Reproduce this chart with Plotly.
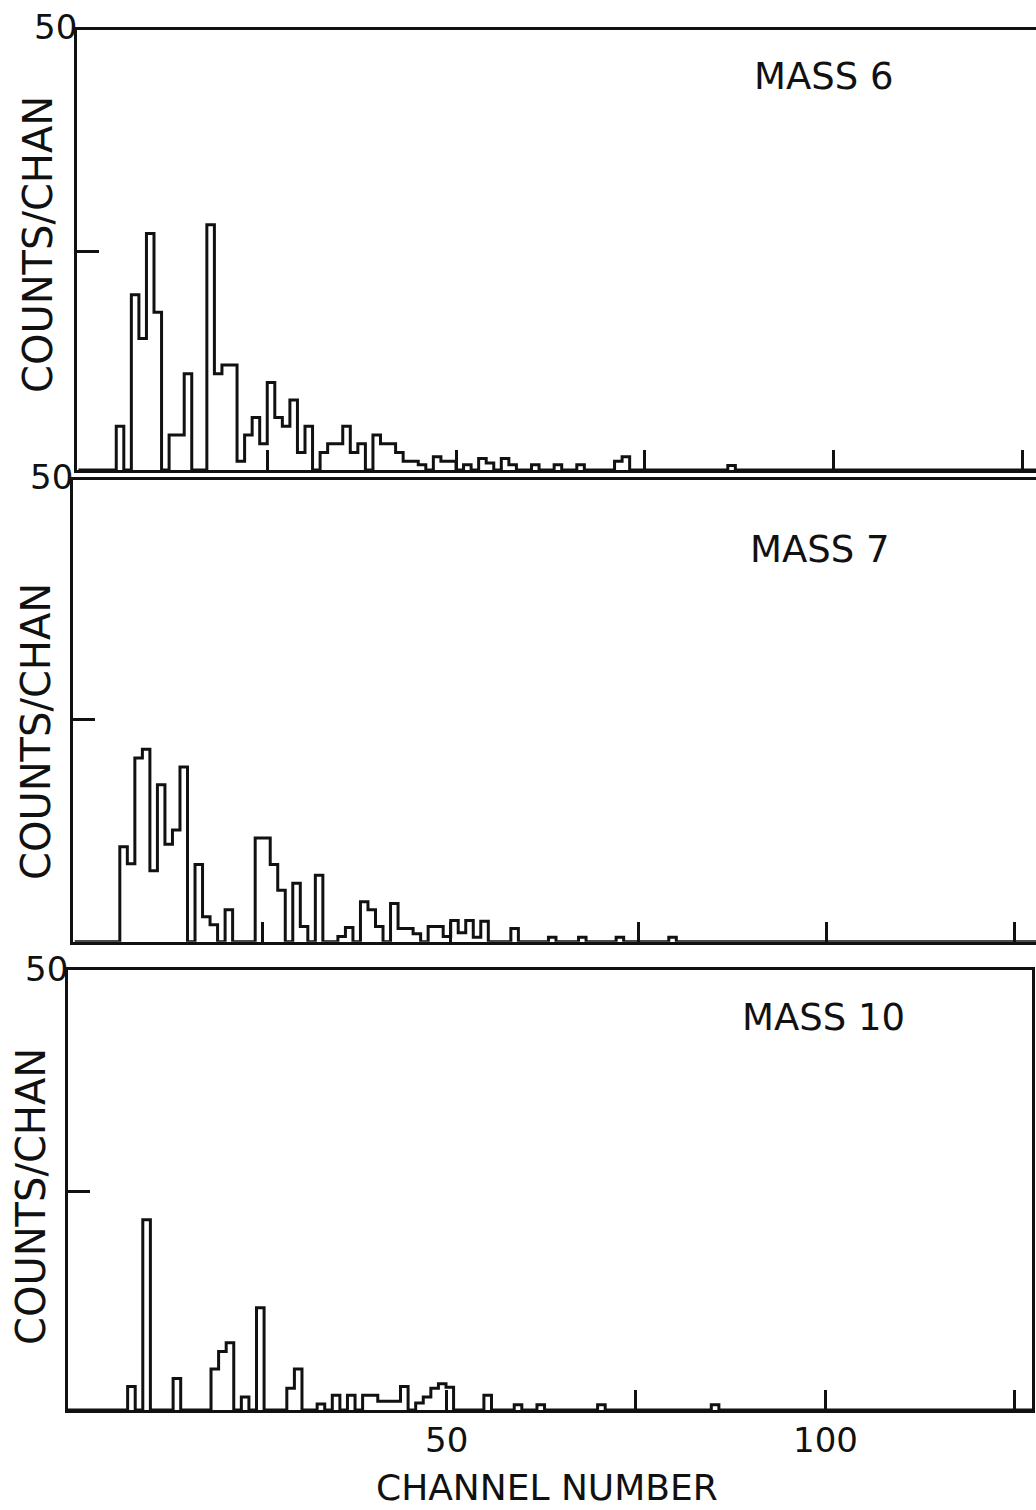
import plotly.graph_objects as go

# ---------------- data (counts per channel, channels 0..127) ----------------
channels = list(range(128))

mass6 = [0, 0, 0, 0, 0, 5, 0, 20, 15, 27,
         18, 0, 4, 4, 11, 0, 0, 28, 11, 12,
         12, 1, 4, 6, 3, 10, 6, 5, 8, 2,
         5, 0, 2, 3, 3, 5, 2, 3, 0, 4,
         3, 3, 2, 1, 1, 0.6, 0, 1.5, 1, 1,
         0, 0.6, 0, 1.3, 0.8, 0, 1.3, 0.6, 0, 0,
         0.6, 0, 0, 0.6, 0, 0, 0.6, 0, 0, 0,
         0, 1, 1.5, 0, 0, 0, 0, 0, 0, 0,
         0, 0, 0, 0, 0, 0, 0.5, 0, 0, 0,
         0, 0, 0, 0, 0, 0, 0, 0, 0, 0,
         0, 0, 0, 0, 0, 0, 0, 0, 0, 0,
         0, 0, 0, 0, 0, 0, 0, 0, 0, 0,
         0, 0, 0, 0, 0, 0, 0, 0]

mass7 = [0, 0, 0, 0, 0, 0, 10.7, 8.8, 20.7, 21.7,
         8, 17.7, 11, 12.6, 19.7, 0, 8.7, 2.8, 1.9, 0,
         3.6, 0, 0, 0, 11.7, 11.7, 8.7, 5.8, 0, 6.6,
         1.7, 0, 7.5, 0, 0, 0.6, 1.6, 0, 4.5, 3.6,
         1.7, 0, 4.3, 1.5, 1.5, 0.9, 0, 1.7, 1.7, 0.6,
         2.4, 1, 2.4, 0.5, 2.3, 0, 0, 0, 1.5, 0,
         0, 0, 0, 0.5, 0, 0, 0, 0.5, 0, 0,
         0, 0, 0.5, 0, 0, 0, 0, 0, 0, 0.5,
         0, 0, 0, 0, 0, 0, 0, 0, 0, 0,
         0, 0, 0, 0, 0, 0, 0, 0, 0, 0,
         0, 0, 0, 0, 0, 0, 0, 0, 0, 0,
         0, 0, 0, 0, 0, 0, 0, 0, 0, 0,
         0, 0, 0, 0, 0, 0, 0, 0]

mass10 = [0, 0, 0, 0, 0, 0, 0, 0, 2.7, 0,
          21.8, 0, 0, 0, 3.6, 0, 0, 0, 0, 4.7,
          6.7, 7.7, 0, 1.5, 0, 11.7, 0, 0, 0, 2.5,
          4.7, 0, 0, 0.7, 0, 1.7, 0, 1.7, 0, 1.7,
          1.7, 1, 1, 1, 2.7, 0, 0.8, 1.5, 2.5, 3.0,
          2.6, 0, 0, 0, 0, 1.7, 0, 0, 0, 0.6,
          0, 0, 0.6, 0, 0, 0, 0, 0, 0, 0,
          0.6, 0, 0, 0, 0, 0, 0, 0, 0, 0,
          0, 0, 0, 0, 0, 0.6, 0, 0, 0, 0,
          0, 0, 0, 0, 0, 0, 0, 0, 0, 0,
          0, 0, 0, 0, 0, 0, 0, 0, 0, 0,
          0, 0, 0, 0, 0, 0, 0, 0, 0, 0,
          0, 0, 0, 0, 0, 0, 0, 0]

panel_labels = ["MASS 6", "MASS 7", "MASS 10"]
x_tick_vals = [25, 50, 75, 100, 125]
x_tick_text = ["50", "100"]
x_tick_text_vals = [50, 100]
y_mid_tick = 25
y_top_label = "50"
y_title = "COUNTS/CHAN"
x_title = "CHANNEL NUMBER"

# ---------------- layout geometry (pixels of the 1036x1510 page) ----------------
W, H = 1036, 1510
FONT = "DejaVu Sans"
INK = "#111111"

geom = [
    dict(left=77, ch0=78.5, pxc=7.55, right=1036, base=470, pxy=8.76, top=30,
         lab=(824, 77), ytl=(38, 245), fifty=(55, 27)),
    dict(left=73, ch0=74.7, pxc=7.52, right=1036, base=941.7, pxy=8.87, top=480,
         lab=(820, 549), ytl=(36, 732), fifty=(51, 477)),
    dict(left=68, ch0=67.0, pxc=7.58, right=1032, base=1410, pxy=8.73, top=970,
         lab=(823, 1018), ytl=(31, 1197), fifty=(46, 969)),
]

series = [mass6, mass7, mass10]

fig = go.Figure()
layout = dict(
    width=W, height=H,
    margin=dict(l=0, r=0, t=0, b=0),
    paper_bgcolor="white", plot_bgcolor="white",
    showlegend=False,
    font=dict(family=FONT, color=INK),
)

annotations = []
for i, (g, vals) in enumerate(zip(geom, series)):
    n = i + 1
    xa = "xaxis" if n == 1 else f"xaxis{n}"
    ya = "yaxis" if n == 1 else f"yaxis{n}"
    xr = "x" if n == 1 else f"x{n}"
    yr = "y" if n == 1 else f"y{n}"

    xs = channels + [channels[-1] + 1]
    ys = vals + [vals[-1]]
    fig.add_trace(go.Scatter(
        x=xs, y=ys, mode="lines", line=dict(shape="hv", color=INK, width=3),
        xaxis=xr, yaxis=yr, hoverinfo="skip"))

    x0 = (g["left"] - g["ch0"]) / g["pxc"]
    x1 = (g["right"] - g["ch0"]) / g["pxc"]
    ytop = (g["base"] - g["top"]) / g["pxy"]

    layout[xa] = dict(
        domain=[g["left"] / W, g["right"] / W], range=[x0, x1],
        showline=True, linecolor=INK, linewidth=3, mirror=True,
        showgrid=False, zeroline=False,
        ticks="inside", ticklen=20, tickwidth=2.5, tickcolor=INK,
        tickvals=x_tick_vals, showticklabels=False,
        anchor=yr, fixedrange=True,
    )
    layout[ya] = dict(
        domain=[1 - g["base"] / H, 1 - g["top"] / H], range=[0, ytop],
        showline=True, linecolor=INK, linewidth=3, mirror=(n == 3),
        showgrid=False, zeroline=False,
        ticks="inside", ticklen=22, tickwidth=2.5, tickcolor=INK,
        tickvals=[y_mid_tick], showticklabels=False,
        anchor=xr, fixedrange=True,
    )

    annotations.append(dict(
        text=panel_labels[i], x=g["lab"][0] / W, y=1 - g["lab"][1] / H,
        xref="paper", yref="paper", showarrow=False,
        font=dict(size=37, family=FONT, color=INK), xanchor="center", yanchor="middle"))
    annotations.append(dict(
        text=y_title, x=g["ytl"][0] / W, y=1 - g["ytl"][1] / H,
        xref="paper", yref="paper", showarrow=False, textangle=-90,
        font=dict(size=40, family=FONT, color=INK), xanchor="center", yanchor="middle"))
    annotations.append(dict(
        text=y_top_label, x=g["fifty"][0] / W, y=1 - g["fifty"][1] / H,
        xref="paper", yref="paper", showarrow=False,
        font=dict(size=34, family=FONT, color=INK), xanchor="center", yanchor="middle"))

for v, t in zip(x_tick_text_vals, x_tick_text):
    annotations.append(dict(
        text=t, x=v, xref="x3", y=1 - 1440 / H, yref="paper", showarrow=False,
        font=dict(size=34, family=FONT, color=INK), xanchor="center", yanchor="middle"))

annotations.append(dict(
    text=x_title, x=547 / W, y=1 - 1487 / H, xref="paper", yref="paper",
    showarrow=False, font=dict(size=36, family=FONT, color=INK),
    xanchor="center", yanchor="middle"))

layout["annotations"] = annotations
fig.update_layout(**layout)
fig.write_html("out.html")
